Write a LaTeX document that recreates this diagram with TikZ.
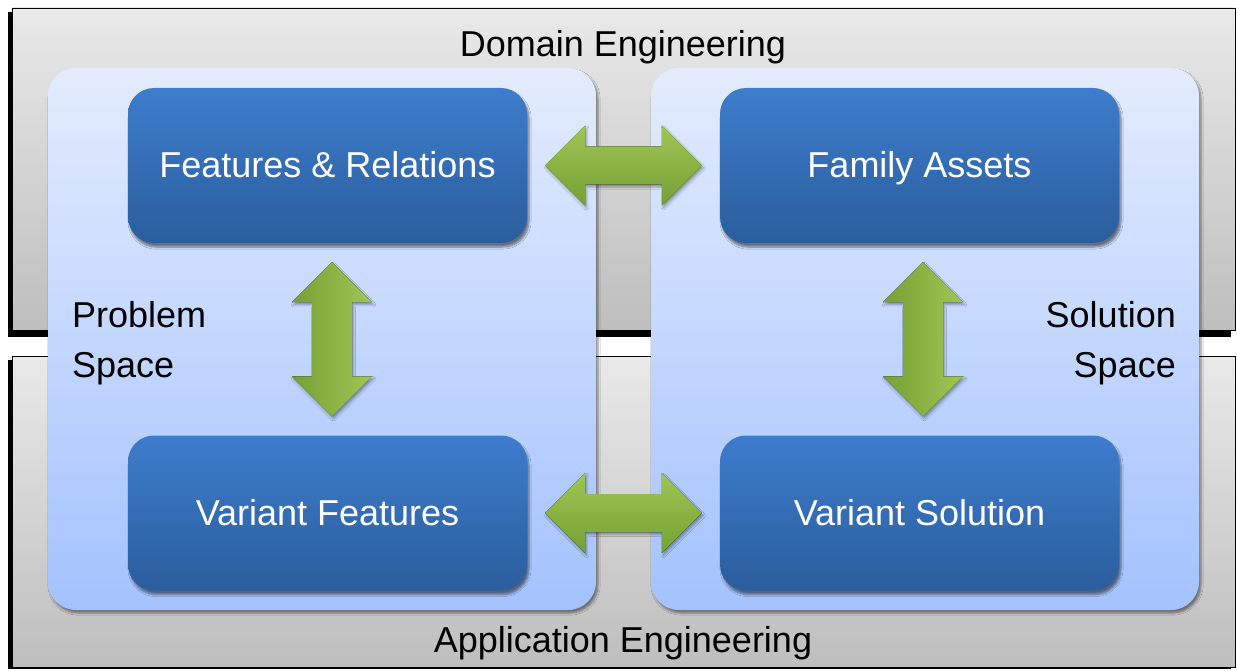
\documentclass[tikz,border=0pt]{standalone}
\usepackage{fontspec}
\setmainfont{Liberation Sans}
\usetikzlibrary{calc,shadows.blur}

\definecolor{bandtop}{HTML}{E9E9E9}
\definecolor{bandbot}{HTML}{BEBEBE}
\definecolor{paneltop}{HTML}{E4ECFD}
\definecolor{panelbot}{HTML}{A3C2FF}
\definecolor{boxtop}{HTML}{3D7DCD}
\definecolor{boxbot}{HTML}{2A5D9C}
\definecolor{greenlight}{HTML}{A0C655}
\definecolor{greendark}{HTML}{76A033}

\tikzset{
  band/.style={draw=black, line width=0.8pt, top color=bandtop, bottom color=bandbot},
  bandshadow/.style={fill=black},
  panel/.style={rounded corners=28pt, top color=paneltop, bottom color=panelbot,
    minimum width=548pt, minimum height=542pt, inner sep=0pt,
    blur shadow={shadow xshift=2pt, shadow yshift=-3pt, shadow blur steps=6, shadow opacity=45}},
  stepbox/.style={rounded corners=26pt, top color=boxtop, bottom color=boxbot,
    minimum width=399pt, minimum height=155pt, inner sep=0pt,
    text=white, font=\bigfont, text height=25pt, text depth=0pt,
    blur shadow={shadow xshift=2pt, shadow yshift=-4pt, shadow blur steps=6, shadow opacity=50}},
  harrow/.style={top color=greenlight, bottom color=greendark,
    blur shadow={shadow xshift=1.5pt, shadow yshift=-2.5pt, shadow blur steps=4, shadow opacity=35}},
  varrow/.style={left color=greendark, right color=greenlight,
    blur shadow={shadow xshift=1.5pt, shadow yshift=-2.5pt, shadow blur steps=4, shadow opacity=35}},
  lbl/.style={font=\bigfont, text=black, inner sep=0pt}
}
\newcommand\bigfont{\fontsize{36}{50}\selectfont}

% broad two-headed arrows, drawn between two tip points
\newcommand\hbigarrow[2]{%
  \fill[harrow] (#1) -- ++(40,-40) -- ++(0,21) -- ($(#2)+(-40,-19)$) -- ++(0,-21)
    -- (#2) -- ++(-40,40) -- ++(0,-21) -- ($(#1)+(40,19)$) -- ++(0,21) -- cycle;}
\newcommand\vbigarrow[2]{%
  \fill[varrow] (#1) -- ++(40,40) -- ++(-20,0) -- ($(#2)+(20,-40)$) -- ++(20,0)
    -- (#2) -- ++(-40,-40) -- ++(20,0) -- ($(#1)+(-20,40)$) -- ++(-20,0) -- cycle;}

\begin{document}
\begin{tikzpicture}[x=1pt, y=-1pt]
  \useasboundingbox (0,0) rectangle (1237,671);
  \fill[white] (0,0) rectangle (1237,671);

  % engineering bands with their dark offset edge
  \fill[bandshadow] (8,12) rectangle (1231,337);
  \draw[band] (12,8) rectangle (1235,330);
  \fill[bandshadow] (8,360) rectangle (1231,668.5);
  \draw[band] (12,356) rectangle (1235,667);

  \node[lbl, anchor=base] (de) at (623,57) {Domain Engineering};
  \node[lbl, anchor=base] (ae) at (623,652) {Application Engineering};

  % problem and solution spaces
  \node[panel] (ps) at (322,339) {};
  \node[panel] (ss) at (925,339) {};

  \node[lbl, anchor=west, align=left] (pl) at (72,343) {Problem\\Space};
  \node[lbl, anchor=east, align=right] (sl) at (1176,343) {Solution\\Space};

  % the four blocks
  \node[stepbox] (fr) at (327.5,165.5) {Features \& Relations};
  \node[stepbox] (fa) at (919.5,165.5) {Family Assets};
  \node[stepbox] (vf) at (327.5,513) {Variant Features};
  \node[stepbox] (vs) at (919.5,513) {Variant Solution};

  % arrow tips
  \coordinate (t1) at ($(fr.east)+(18,0)$);
  \coordinate (t2) at ($(fa.west)+(-18,0)$);
  \coordinate (t3) at ($(vf.east)+(18,0)$);
  \coordinate (t4) at ($(vs.west)+(-18,0)$);
  \coordinate (t5) at ($(fr.south)+(4.5,19)$);
  \coordinate (t6) at ($(vf.north)+(4.5,-19)$);
  \coordinate (t7) at ($(fa.south)+(3.5,19)$);
  \coordinate (t8) at ($(vs.north)+(3.5,-19)$);

  \hbigarrow{t1}{t2}
  \hbigarrow{t3}{t4}
  \vbigarrow{t5}{t6}
  \vbigarrow{t7}{t8}
\end{tikzpicture}
\end{document}
